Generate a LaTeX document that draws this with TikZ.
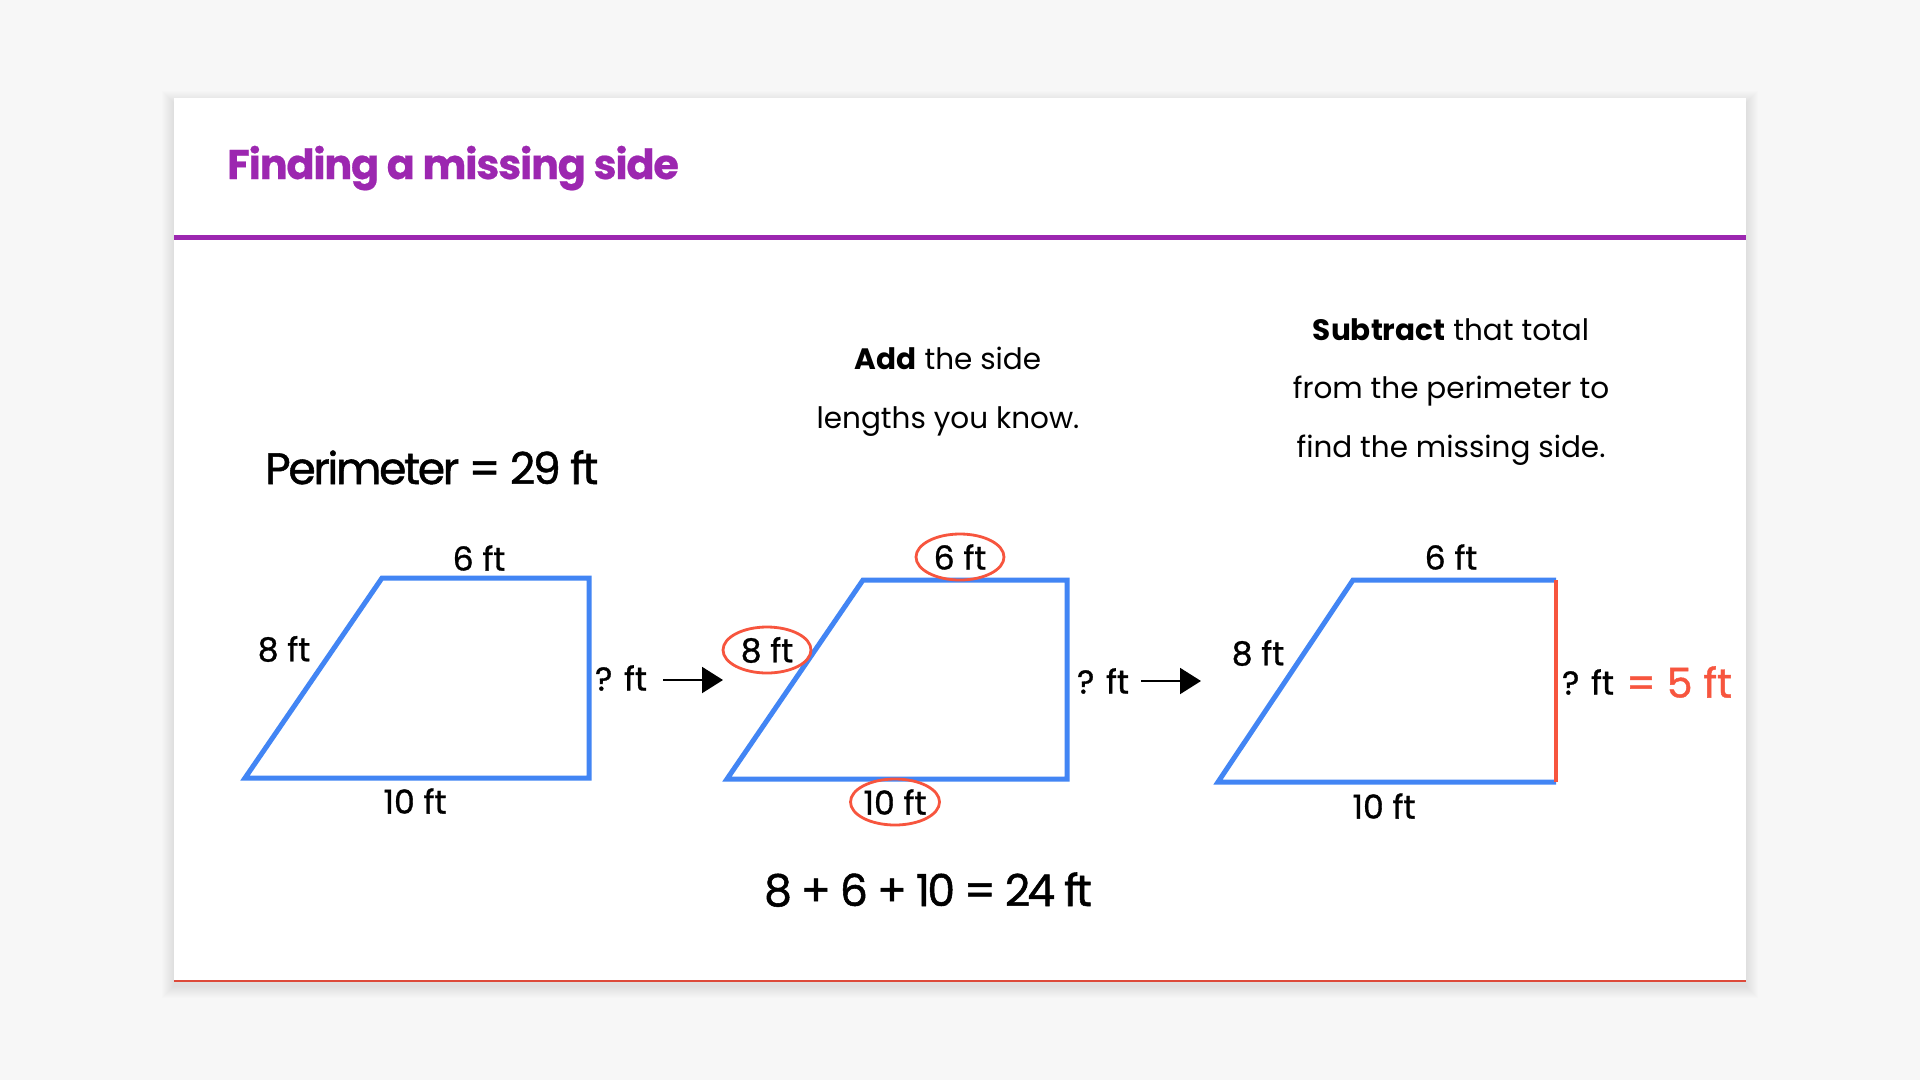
\documentclass[tikz,border=0pt]{standalone}
\usepackage{fontspec}
\setmainfont{Poppins}
\newfontfamily\pmed[FakeBold=1]{Poppins}
\newfontfamily\pbig[FakeBold=1.2,LetterSpace=-5.2]{Poppins}
\newfontfamily\peq[FakeBold=1.2,LetterSpace=-6.2]{Poppins}
\newfontfamily\ptitle[FakeBold=0.5,LetterSpace=-3]{Poppins}
\usetikzlibrary{arrows.meta,shapes.geometric}
\definecolor{bg}{HTML}{F7F7F7}
\definecolor{purp}{HTML}{9C27B0}
\definecolor{bluec}{HTML}{4285F4}
\definecolor{redc}{HTML}{F7553E}
\definecolor{edgered}{HTML}{DD4A3A}
\tikzset{
  lbl/.style={inner sep=0pt, font=\pmed\fontsize{33}{40}\selectfont},
  big/.style={inner sep=0pt, font=\pbig\fontsize{44}{52}\selectfont},
  txt/.style={inner sep=0pt, font=\fontsize{29.5}{36}\selectfont, anchor=base},
  trap/.style={draw=bluec, line width=5pt, miter limit=10},
  circ/.style={ellipse, draw=redc, line width=2.8pt, minimum width=88pt, minimum height=46pt},
  arr/.style={line width=2pt, -{Triangle[length=21pt,width=26pt]}}
}
\begin{document}
\begin{tikzpicture}[x=1pt,y=-1pt]
\useasboundingbox (0,0) rectangle (1920,1080);
\fill[bg] (0,0) rectangle (1920,1080);
% card shadow
\foreach \i in {1,...,12}{
  \fill[black,opacity=0.009] (174-\i,98-\i+5) rectangle (1746+\i,981+\i+5);
}
\fill[white] (174,98) rectangle (1746,981);
\fill[edgered] (174,980.2) rectangle (1746,981.6);
% header
\node[inner sep=0pt, anchor=base west, text=purp, font=\ptitle\bfseries\fontsize{41.5}{50}\selectfont] (title) at (227,179) {Finding a missing side};
\fill[purp] (174,235) rectangle (1746,240);

% left
\node[big, anchor=base west] (perim) at (265,484) {Perimeter = 29 ft};
\draw[trap] (245,778) -- (382,578) -- (589,578) -- (589,778) -- cycle;
\node[lbl] (la) at (479,558) {6 ft};
\node[lbl] (lb) at (284,649) {8 ft};
\node[lbl] (lc) at (621,678) {? ft};
\node[lbl] (ld) at (415,801) {10 ft};
\coordinate (a1s) at (663,680);
\coordinate (a1e) at (723,680);
\draw[arr] (a1s) -- (a1e);

% middle
\node[txt] (t1) at (948,369) {\textbf{Add} the side};
\node[txt] (t2) at (948,428) {lengths you know.};
\draw[trap] (727,779) -- (863,580) -- (1067,580) -- (1067,779) -- cycle;
\node[lbl, circ] (ma) at (960,557) {6 ft};
\node[lbl, circ] (mb) at (767,650) {8 ft};
\node[lbl, circ] (md) at (895,802) {10 ft};
\node[lbl] (mc) at (1103,681) {? ft};
\coordinate (a2s) at (1141,681);
\coordinate (a2e) at (1201,681);
\draw[arr] (a2s) -- (a2e);
\node[inner sep=0pt, font=\peq\fontsize{44}{52}\selectfont, anchor=base] (eq) at (928,906) {8 + 6 + 10 = 24 ft};

% right
\node[txt] (r1) at (1451,340) {\textbf{Subtract} that total};
\node[txt] (r2) at (1451,398.5) {from the perimeter to};
\node[txt] (r3) at (1451,457.5) {find the missing side.};
\draw[trap] (1556,782) -- (1218,782) -- (1353,580) -- (1556,580);
\draw[draw=redc, line width=4pt] (1556,580) -- (1556,782);
\node[lbl] (ra) at (1451,557) {6 ft};
\node[lbl] (rb) at (1258,653) {8 ft};
\node[lbl] (rd) at (1384,806) {10 ft};
\node[lbl] (rc) at (1588,682) {? ft};
\node[inner sep=0pt, anchor=west, text=redc, font=\pmed\fontsize{41}{48}\selectfont] (res) at (1626,682) {= 5 ft};
\end{tikzpicture}
\end{document}
